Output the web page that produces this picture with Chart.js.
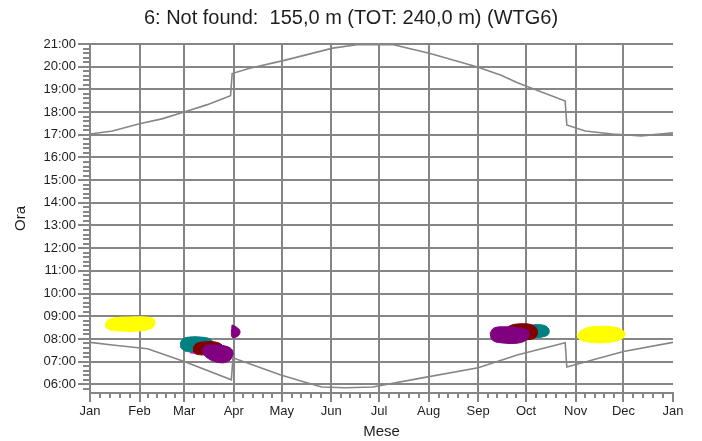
<!DOCTYPE html>
<html>
<head>
<meta charset="utf-8">
<script src="https://cdn.jsdelivr.net/npm/chart.js@4.4.0/dist/chart.umd.min.js"></script>
<style>
  html, body { margin: 0; padding: 0; background: #fff; }
  #wrap { width: 702px; height: 441px; }
</style>
</head>
<body>
<div id="wrap"><canvas id="flickerChart" width="702" height="441"></canvas></div>
<script>
// axis categories
const monthLabels = ['Jan', 'Feb', 'Mar', 'Apr', 'May', 'Jun', 'Jul', 'Aug', 'Sep', 'Oct', 'Nov', 'Dec', 'Jan'];
const monthStartDays = [0, 31, 59, 90, 120, 151, 181, 212, 243, 273, 304, 334, 365];
const hourTicks = ['06:00', '07:00', '08:00', '09:00', '10:00', '11:00', '12:00', '13:00',
    '14:00', '15:00', '16:00', '17:00', '18:00', '19:00', '20:00', '21:00'];

// sunset / sunrise (day of year, local time)
const sunsetDays = [0, 14, 31, 45, 59, 73, 88, 89, 100, 121, 152, 167, 190, 213, 242, 257, 268, 297.5, 298.5, 310, 327, 345, 365];
const sunsetTimes = ['17:02', '17:10', '17:29', '17:42', '18:00', '18:19', '18:43', '19:42', '19:56', '20:16', '20:49', '20:58', '20:58',
    '20:35', '20:00', '19:38', '19:17', '18:29', '17:26', '17:10', '17:02', '16:57', '17:05'];
const sunriseDays = [0, 14, 36, 59, 88.5, 89.5, 119, 131, 145, 160, 177, 208, 243, 268, 297.5, 298.5, 334, 365];
const sunriseTimes = ['07:51', '07:44', '07:34', '07:00', '06:12', '07:10', '06:25', '06:10', '05:53', '05:51', '05:53',
    '06:17', '06:44', '07:18', '07:50', '06:46', '07:27', '07:51'];

// shadow flicker periods (outline of each area: day, time)
const yellowJanDays = [9.4, 11.3, 15.7, 25.0, 34.4, 39.4, 40.7, 38.8, 31.3, 18.8, 12.5, 9.4];
const yellowJanTimes = ['08:37', '08:50', '08:56', '08:58', '08:58', '08:54', '08:42', '08:29', '08:21', '08:21', '08:24', '08:32'];

const tealSpringDays = [56.4, 58.2, 62.6, 68.9, 75.1, 77.0, 73.9, 65.7, 59.5, 56.4];
const tealSpringTimes = ['07:49', '08:00', '08:05', '08:05', '08:00', '07:47', '07:31', '07:26', '07:28', '07:39'];

const pinkSpringDays = [62.6, 66.4, 66.4, 62.6];
const pinkSpringTimes = ['07:31', '07:31', '07:23', '07:23'];

const redSpringDays = [64.5, 66.4, 70.8, 78.3, 82.7, 83.3, 80.1, 72.0, 66.4, 64.5];
const redSpringTimes = ['07:36', '07:47', '07:52', '07:52', '07:44', '07:33', '07:23', '07:18', '07:20', '07:28'];

const purpleSpringDays = [70.1, 72.0, 78.3, 86.4, 89.5, 87.7, 81.4, 73.3, 70.1];
const purpleSpringTimes = ['07:28', '07:41', '07:44', '07:39', '07:26', '07:04', '06:57', '07:10', '07:28'];

const purpleAprDays = [88.9, 91.4, 93.9, 92.7, 88.9, 88.9];
const purpleAprTimes = ['08:37', '08:32', '08:21', '08:08', '08:05', '08:37'];

const purpleAutDays = [250.5, 253.0, 259.9, 269.3, 274.3, 274.3, 269.3, 256.7, 251.7, 250.5];
const purpleAutTimes = ['08:16', '08:29', '08:32', '08:29', '08:21', '08:03', '07:50', '07:50', '07:58', '08:16'];

const redAutDays = [259.9, 263.0, 269.3, 276.8, 279.9, 279.3, 274.3, 264.2, 259.9];
const redAutTimes = ['08:24', '08:35', '08:40', '08:37', '08:24', '08:06', '07:58', '08:00', '08:24'];

const tealAutDays = [272.4, 275.5, 283.0, 286.8, 287.4, 285.5, 278.6, 273.6, 272.4];
const tealAutTimes = ['08:24', '08:35', '08:37', '08:29', '08:16', '08:08', '08:03', '08:06', '08:24'];

const yellowNovDays = [304.9, 308.1, 314.3, 326.9, 333.1, 335.0, 331.9, 322.5, 311.8, 306.2, 304.9];
const yellowNovTimes = ['08:11', '08:24', '08:32', '08:32', '08:24', '08:11', '07:58', '07:50', '07:52', '08:00', '08:11'];

const gridGray = '#868686';
const textColor = '#1e1e1e';
const fontFamily = '"Liberation Sans", Arial, sans-serif';

function toMin(s) {
    const [h, m] = s.split(':').map(Number);
    return h * 60 + m;
}

function fmtTime(v) {
    const h = Math.floor(v / 60);
    const m = Math.round(v - h * 60);
    return String(h).padStart(2, '0') + ':' + String(m).padStart(2, '0');
}

function toPoints(days, times) {
    return days.map((d, i) => ({ x: d, y: toMin(times[i]) }));
}

function area(days, times, color, order) {
    return {
        data: toPoints(days, times),
        backgroundColor: color,
        borderColor: color,
        borderWidth: 1,
        pointRadius: 0,
        tension: 0.4,
        fill: 'shape',
        order: order
    };
}

function sunLine(days, times) {
    return {
        data: toPoints(days, times),
        borderColor: gridGray,
        borderWidth: 1.6,
        pointRadius: 0,
        tension: 0,
        fill: false,
        order: 0
    };
}

// small ticks between the labelled ones
const minorTicks = {
    id: 'minorTicks',
    afterDraw(chart) {
        const { ctx, scales: { x, y } } = chart;
        ctx.save();
        ctx.strokeStyle = gridGray;
        ctx.lineWidth = 2;
        ctx.beginPath();
        for (let h = 5; h <= 20; h++) {
            for (let k = 1; k <= 4; k++) {
                const v = h * 60 + k * 12;
                if (v < y.min || v > y.max) continue;
                const py = Math.round(y.getPixelForValue(v));
                ctx.moveTo(x.left - 7, py);
                ctx.lineTo(x.left, py);
            }
        }
        for (let i = 0; i < monthStartDays.length - 1; i++) {
            const a = monthStartDays[i], b = monthStartDays[i + 1];
            for (let k = 1; k <= 4; k++) {
                const px = Math.round(x.getPixelForValue(a + (b - a) * k / 5));
                ctx.moveTo(px, y.bottom);
                ctx.lineTo(px, y.bottom + 5);
            }
        }
        ctx.stroke();
        ctx.restore();
    }
};

const ctx = document.getElementById('flickerChart').getContext('2d');

const flickerChart = new Chart(ctx, {
    type: 'line',
    data: {
        datasets: [
            sunLine(sunsetDays, sunsetTimes),
            sunLine(sunriseDays, sunriseTimes),
            area(yellowJanDays, yellowJanTimes, '#ffff00', 5),
            area(tealSpringDays, tealSpringTimes, '#008080', 8),
            area(pinkSpringDays, pinkSpringTimes, '#ff00ff', 9),
            area(redSpringDays, redSpringTimes, '#800000', 7),
            area(purpleSpringDays, purpleSpringTimes, '#800080', 6),
            area(purpleAprDays, purpleAprTimes, '#800080', 6),
            area(tealAutDays, tealAutTimes, '#008080', 8),
            area(redAutDays, redAutTimes, '#800000', 7),
            area(purpleAutDays, purpleAutTimes, '#800080', 6),
            area(yellowNovDays, yellowNovTimes, '#ffff00', 5)
        ]
    },
    options: {
        responsive: false,
        animation: false,
        devicePixelRatio: 1,
        layout: { padding: 0 },
        plugins: {
            legend: { display: false },
            tooltip: { enabled: false },
            title: {
                display: true,
                text: '6: Not found:  155,0 m (TOT: 240,0 m) (WTG6)',
                color: textColor,
                font: { family: fontFamily, size: 20, weight: 'normal', lineHeight: 1.2 },
                padding: { top: 6, bottom: 14 }
            }
        },
        scales: {
            x: {
                type: 'linear',
                min: 0,
                max: 365,
                z: 1,
                afterBuildTicks: scale => {
                    scale.ticks = monthStartDays.map(v => ({ value: v }));
                },
                afterFit: scale => { scale.height = 48; },
                ticks: {
                    autoSkip: false,
                    maxRotation: 0,
                    padding: 2,
                    color: textColor,
                    font: { family: fontFamily, size: 13 },
                    callback: (value, index) => monthLabels[index]
                },
                grid: {
                    color: c => (c.index === monthStartDays.length - 1 ? 'rgba(0,0,0,0)' : gridGray),
                    tickColor: gridGray,
                    lineWidth: 2,
                    tickLength: 9
                },
                border: { color: gridGray, width: 2 },
                title: {
                    display: true,
                    text: 'Mese',
                    color: textColor,
                    font: { family: fontFamily, size: 15 },
                    padding: { top: 0, bottom: 0 }
                }
            },
            y: {
                type: 'linear',
                min: toMin('05:37'),
                max: toMin('21:00'),
                z: 1,
                afterBuildTicks: scale => {
                    scale.ticks = hourTicks.map(t => ({ value: toMin(t) }));
                },
                afterFit: scale => { scale.width = 90; },
                ticks: {
                    padding: 2,
                    color: textColor,
                    font: { family: fontFamily, size: 13 },
                    callback: value => fmtTime(value)
                },
                grid: {
                    color: gridGray,
                    lineWidth: 2,
                    tickLength: 12
                },
                border: { color: gridGray, width: 2 },
                title: {
                    display: true,
                    text: 'Ora',
                    color: textColor,
                    font: { family: fontFamily, size: 15 },
                    padding: { top: 12, bottom: 0 }
                }
            },
            // empty right margin so the title stays centred on the canvas
            yRight: {
                type: 'linear',
                position: 'right',
                min: 0,
                max: 1,
                afterFit: scale => { scale.width = 29; },
                ticks: { display: false },
                grid: { display: false },
                border: { display: false }
            }
        }
    },
    plugins: [minorTicks]
});
</script>
</body>
</html>
